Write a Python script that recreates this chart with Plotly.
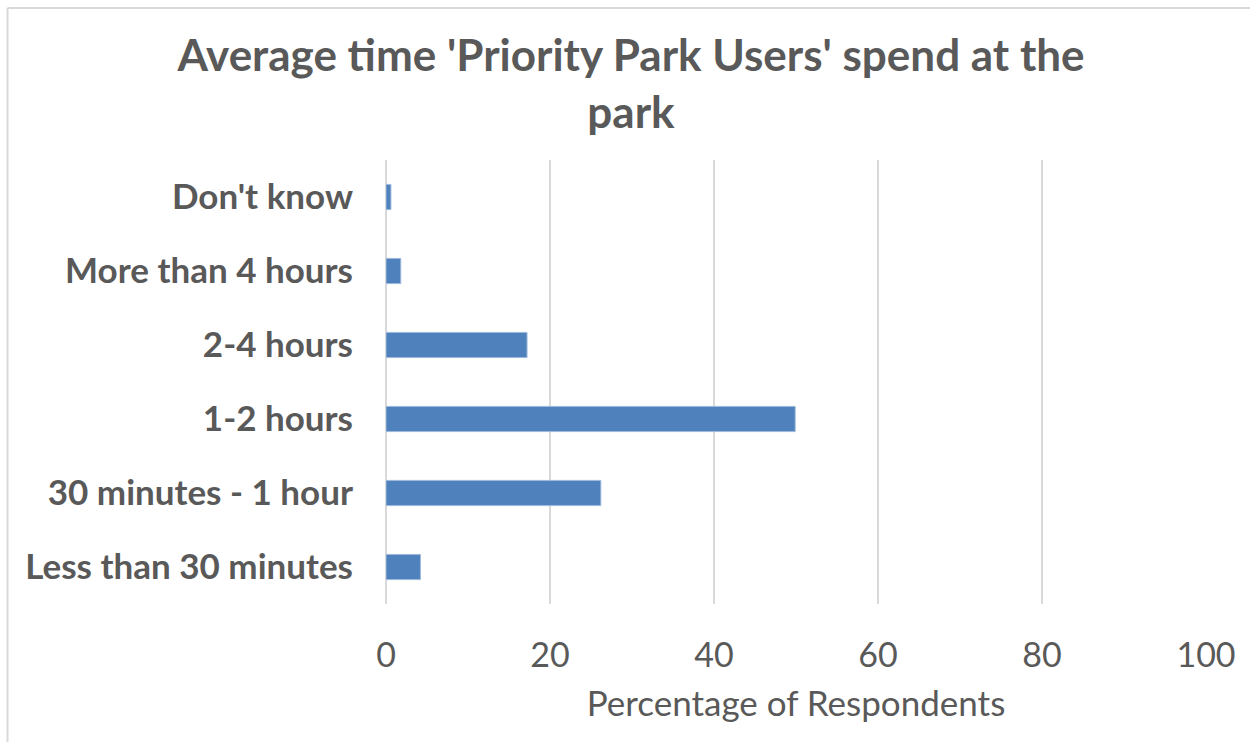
import plotly.graph_objects as go

categories = ["Less than 30 minutes", "30 minutes - 1 hour", "1-2 hours",
              "2-4 hours", "More than 4 hours", "Don't know"]
percentages = [4.2, 26.2, 49.9, 17.2, 1.8, 0.6]
x_ticks = [0, 20, 40, 60, 80, 100]

W, H = 1250, 742
L, R, T, B = 386, 44, 160, 138
pw, ph = W - L - R, H - T - B

def px_x(p):
    return (p - L) / pw

def px_y(p):
    return (H - B - p) / ph

fig = go.Figure(go.Bar(
    y=categories, x=percentages, orientation="h",
    marker=dict(color="#4F81BD", line=dict(color="#9DB9DC", width=1)),
))

fig.update_layout(
    width=W, height=H,
    margin=dict(l=L, r=R, t=T, b=B),
    paper_bgcolor="white", plot_bgcolor="white",
    bargap=0.66,
    showlegend=False,
    font=dict(family="Lato", color="#595959"),
    title=dict(
        text="<b>Average time 'Priority Park Users' spend at the<br>park</b>",
        x=631 / W, xanchor="center", y=1 - 71 / H, yanchor="middle",
        font=dict(family="Lato", size=44, color="#595959"),
    ),
    xaxis=dict(
        range=[0, 100], tickvals=x_ticks, showgrid=True,
        gridcolor="#D9D9D9", gridwidth=2, zeroline=True,
        zerolinecolor="#D9D9D9", zerolinewidth=2, showline=False,
        tickfont=dict(size=34, color="#595959"), ticklabelstandoff=28,
        title=dict(text="Percentage of Respondents",
                   font=dict(size=35, color="#595959"), standoff=18),
    ),
    yaxis=dict(
        showgrid=False, showline=False, zeroline=False,
        tickfont=dict(size=35, color="#595959", weight="bold"),
        ticklabelstandoff=32,
    ),
    shapes=[
        dict(type="line", xref="paper", yref="paper",
             x0=px_x(7.5), x1=px_x(1260), y0=px_y(8), y1=px_y(8),
             line=dict(color="#D9D9D9", width=2)),
        dict(type="line", xref="paper", yref="paper",
             x0=px_x(7.5), x1=px_x(7.5), y0=px_y(8), y1=px_y(760),
             line=dict(color="#D9D9D9", width=2)),
    ],
)

fig.write_html("out.html", config={"displayModeBar": False},
               post_script="document.body.style.margin='0';")
